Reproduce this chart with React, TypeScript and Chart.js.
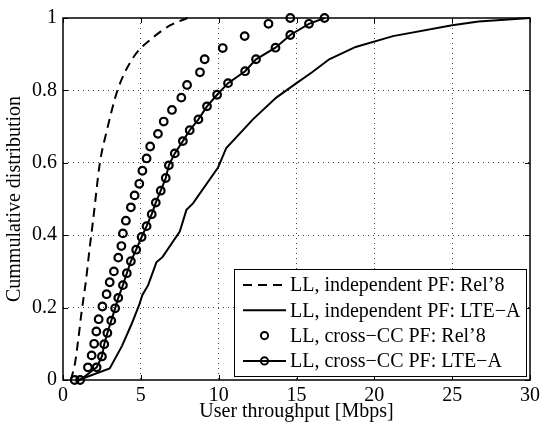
import React, { useEffect, useRef } from "react";
import { Chart, registerables } from "chart.js";

Chart.register(...registerables);

const FONT = "'Liberation Serif', 'Times New Roman', Times, serif";

const seriesLabels = [
  "LL, independent PF: Rel’8",
  "LL, independent PF: LTE−A",
  "LL, cross−CC PF: Rel’8",
  "LL, cross−CC PF: LTE−A",
];

const xTicks = [0, 5, 10, 15, 20, 25, 30];
const yTicks = [0, 0.2, 0.4, 0.6, 0.8, 1];
const xTitle = "User throughput [Mbps]";
const yTitle = "Cummulative distribution";

// LL, independent PF: Rel'8 (dashed)
const indepRel8X = [0.5, 0.77, 0.97, 1.2, 1.48, 1.7, 1.93, 2.37, 2.8, 3.5, 4.5, 5.9, 6.9, 8.0];
const indepRel8Y = [0, 0.046, 0.108, 0.19, 0.276, 0.36, 0.44, 0.6, 0.686, 0.8, 0.89, 0.95, 0.98, 1.0];

// LL, independent PF: LTE-A (solid)
const indepLteX = [1.0, 3.0, 3.8, 4.4, 4.9, 5.1, 5.47, 6.0, 6.4, 7.5, 7.93, 8.35, 9.96, 10.49, 12.2, 13.7, 15.0, 16.0, 17.1, 18.8, 21.2, 25.0, 26.7, 30];
const indepLteY = [0, 0.032, 0.095, 0.154, 0.208, 0.235, 0.262, 0.325, 0.34, 0.41, 0.47, 0.488, 0.587, 0.641, 0.72, 0.78, 0.82, 0.85, 0.886, 0.92, 0.95, 0.98, 0.99, 1.0];

// LL, cross-CC PF: Rel'8 (circles only)
const crossRel8X = [0.75, 1.6, 1.84, 2.0, 2.14, 2.29, 2.53, 2.8, 3.0, 3.27, 3.55, 3.75, 3.85, 4.04, 4.36, 4.6, 4.9, 5.1, 5.37, 5.6, 6.1, 6.47, 7.0, 7.6, 7.97, 8.8, 9.1, 10.26, 11.67, 13.2, 14.6];
const crossRel8Y = [0, 0.035, 0.068, 0.1, 0.134, 0.168, 0.203, 0.237, 0.27, 0.3, 0.338, 0.37, 0.405, 0.44, 0.477, 0.51, 0.542, 0.578, 0.612, 0.645, 0.68, 0.714, 0.746, 0.78, 0.815, 0.85, 0.886, 0.917, 0.95, 0.984, 1.0];

// LL, cross-CC PF: LTE-A (circles with line)
const crossLteX = [1.1, 2.16, 2.5, 2.65, 2.85, 3.1, 3.35, 3.55, 3.85, 4.1, 4.36, 4.7, 5.05, 5.37, 5.7, 5.96, 6.28, 6.6, 6.8, 7.18, 7.7, 8.14, 8.7, 9.25, 9.9, 10.6, 11.7, 12.4, 13.65, 14.6, 15.8, 16.8];
const crossLteY = [0, 0.035, 0.065, 0.099, 0.13, 0.164, 0.198, 0.227, 0.262, 0.295, 0.328, 0.36, 0.395, 0.425, 0.458, 0.49, 0.523, 0.558, 0.593, 0.626, 0.66, 0.69, 0.72, 0.756, 0.788, 0.82, 0.853, 0.886, 0.918, 0.953, 0.984, 1.0];

function pts(xs: number[], ys: number[]) {
  return xs.map((x, i) => ({ x, y: ys[i] }));
}

const framePlugin = {
  id: "matlabFrame",
  afterDatasetsDraw(chart: any) {
    const { ctx, chartArea: a, scales } = chart;
    ctx.save();
    ctx.setLineDash([]);
    ctx.strokeStyle = "#000";
    ctx.lineWidth = 1;
    ctx.beginPath();
    for (const v of xTicks) {
      const px = Math.round(scales.x.getPixelForValue(v)) + 0.5;
      ctx.moveTo(px, a.bottom);
      ctx.lineTo(px, a.bottom - 5);
      ctx.moveTo(px, a.top);
      ctx.lineTo(px, a.top + 5);
    }
    for (const v of yTicks) {
      const py = Math.round(scales.y.getPixelForValue(v)) + 0.5;
      ctx.moveTo(a.left, py);
      ctx.lineTo(a.left + 5, py);
      ctx.moveTo(a.right, py);
      ctx.lineTo(a.right - 5, py);
    }
    ctx.stroke();
    ctx.lineWidth = 1.5;
    ctx.strokeRect(a.left, a.top, a.right - a.left, a.bottom - a.top);
    ctx.restore();
  },
};

const legendPlugin = {
  id: "boxLegend",
  afterDraw(chart: any) {
    const { ctx, chartArea: a } = chart;
    const datasets = chart.data.datasets;
    ctx.save();
    ctx.font = `20px ${FONT}`;
    const textW = Math.max(...datasets.map((d: any) => ctx.measureText(d.label).width));
    const w = Math.round(56 + textW + 5);
    const h = 107;
    const right = Math.round(a.right) - 4;
    const bottom = Math.round(a.bottom) - 4;
    const left = right - w;
    const top = bottom - h;
    ctx.fillStyle = "#fff";
    ctx.fillRect(left, top, w, h);
    ctx.strokeStyle = "#000";
    ctx.lineWidth = 1;
    ctx.setLineDash([]);
    ctx.strokeRect(left + 0.5, top + 0.5, w, h);
    const rowGap = 25.3;
    datasets.forEach((d: any, i: number) => {
      const cy = top + 16 + i * rowGap;
      const x0 = left + 9;
      const x1 = left + 52;
      ctx.strokeStyle = "#000";
      ctx.lineWidth = 2;
      if (d.showLine !== false) {
        ctx.setLineDash(d.borderDash || []);
        ctx.beginPath();
        ctx.moveTo(x0, cy);
        ctx.lineTo(x1, cy);
        ctx.stroke();
        ctx.setLineDash([]);
      }
      if (d.pointRadius > 0) {
        ctx.beginPath();
        ctx.arc((x0 + x1) / 2, cy, 3.6, 0, Math.PI * 2);
        ctx.fillStyle = "#fff";
        if (d.showLine === false) ctx.fill();
        ctx.stroke();
      }
      ctx.fillStyle = "#000";
      ctx.textBaseline = "middle";
      ctx.textAlign = "left";
      ctx.fillText(d.label, left + 56, cy + 1);
    });
    ctx.restore();
  },
};

export default function App() {
  const ref = useRef<HTMLCanvasElement | null>(null);
  useEffect(() => {
    if (!ref.current) return;
    const gridColor = (ctx: any) => {
      const v = ctx.tick && ctx.tick.value;
      const scale = ctx.scale;
      if (v === undefined) return "rgba(0,0,0,0)";
      if (Math.abs(v - scale.min) < 1e-9 || Math.abs(v - scale.max) < 1e-9) return "rgba(0,0,0,0)";
      return "rgba(0,0,0,0.75)";
    };
    const chart = new Chart(ref.current, {
      type: "scatter",
      data: {
        datasets: [
          {
            label: seriesLabels[0],
            data: pts(indepRel8X, indepRel8Y),
            showLine: true,
            borderColor: "#000",
            borderWidth: 2,
            borderDash: [9, 6],
            pointRadius: 0,
            cubicInterpolationMode: "monotone",
            clip: false,
          },
          {
            label: seriesLabels[1],
            data: pts(indepLteX, indepLteY),
            showLine: true,
            borderColor: "#000",
            borderWidth: 2,
            pointRadius: 0,
            clip: false,
          },
          {
            label: seriesLabels[2],
            data: pts(crossRel8X, crossRel8Y),
            showLine: false,
            borderColor: "#000",
            pointBorderColor: "#000",
            pointBackgroundColor: "rgba(0,0,0,0)",
            pointBorderWidth: 2.2,
            pointRadius: 3.8,
            clip: false,
          },
          {
            label: seriesLabels[3],
            data: pts(crossLteX, crossLteY),
            showLine: true,
            borderColor: "#000",
            borderWidth: 2,
            pointBorderColor: "#000",
            pointBackgroundColor: "rgba(0,0,0,0)",
            pointBorderWidth: 2.2,
            pointRadius: 3.8,
            clip: false,
          },
        ] as any,
      },
      options: {
        animation: false,
        responsive: false,
        devicePixelRatio: 1,
        layout: { padding: { top: 11, right: 12, left: 0, bottom: 0 } },
        plugins: {
          legend: { display: false },
          tooltip: { enabled: false },
        },
        scales: {
          x: {
            type: "linear",
            min: 0,
            max: 30,
            afterBuildTicks: (s: any) => {
              s.ticks = xTicks.map((v) => ({ value: v }));
            },
            afterFit: (s: any) => {
              s.height = 49;
            },
            ticks: {
              color: "#000",
              font: { family: FONT, size: 20 },
              padding: 4,
              maxRotation: 0,
              autoSkip: false,
            },
            grid: { color: gridColor, lineWidth: 1, drawTicks: false },
            border: { display: false, dash: [1, 4] },
            title: {
              display: true,
              text: xTitle,
              color: "#000",
              font: { family: FONT, size: 20 },
              padding: { top: 0, bottom: 5 },
            },
          },
          y: {
            type: "linear",
            min: 0,
            max: 1,
            afterBuildTicks: (s: any) => {
              s.ticks = yTicks.map((v) => ({ value: v }));
            },
            afterFit: (s: any) => {
              s.width = 63;
            },
            ticks: {
              color: "#000",
              font: { family: FONT, size: 20 },
              padding: 6,
              autoSkip: false,
              callback: (v: any) => String(Number(Number(v).toFixed(1))),
            },
            grid: { color: gridColor, lineWidth: 1, drawTicks: false },
            border: { display: false, dash: [1, 4] },
            title: {
              display: true,
              text: yTitle,
              color: "#000",
              font: { family: FONT, size: 20 },
              padding: { top: 3, bottom: 0 },
            },
          },
        },
      },
      plugins: [framePlugin, legendPlugin],
    });
    return () => chart.destroy();
  }, []);
  return (
    <div style={{ position: "absolute", left: 0, top: 0, width: 544, height: 429, background: "#fff" }}>
      <canvas ref={ref} width={544} height={429} style={{ display: "block" }} />
    </div>
  );
}
